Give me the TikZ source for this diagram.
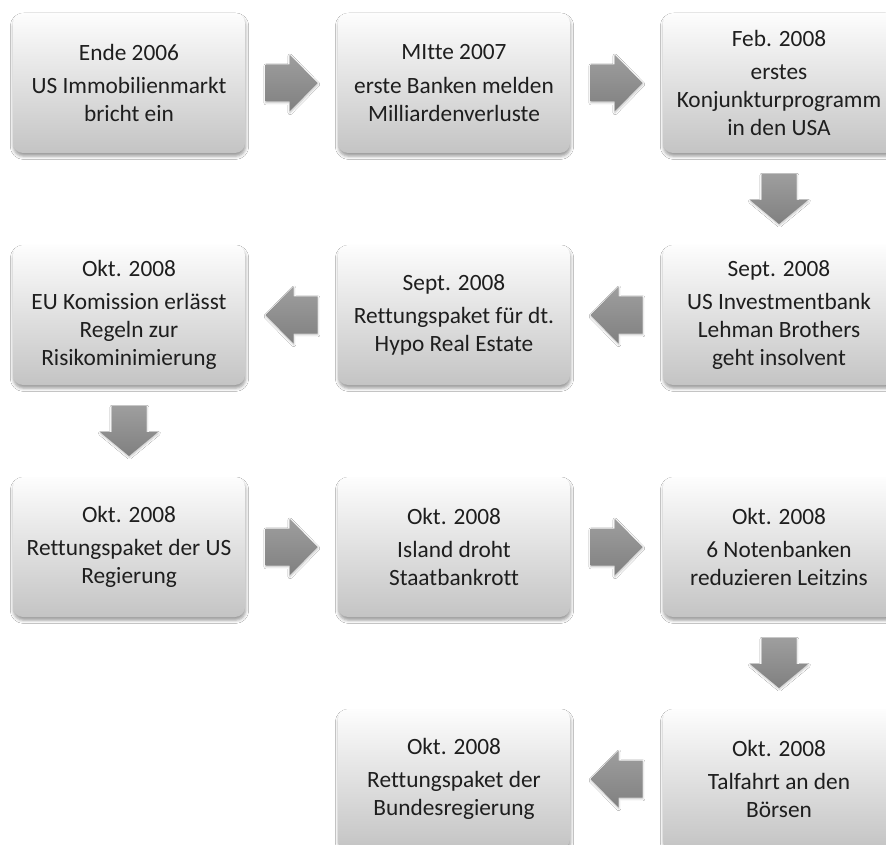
\documentclass[tikz,border=0pt]{standalone}
\usepackage{fontspec}
\setmainfont{Carlito}[Ligatures={NoCommon}]
\usetikzlibrary{calc,shadows.blur}

\definecolor{boxbottom}{HTML}{C4C4C4}
\definecolor{boxtop}{HTML}{FDFDFD}
\definecolor{ink}{HTML}{1E1E1E}
\definecolor{arrowlight}{HTML}{9E9E9E}
\definecolor{arrowdark}{HTML}{808080}

\tikzset{
  event/.style={
    rounded corners=7.5pt,
    minimum width=174pt, minimum height=105pt,
    inner sep=0pt, align=center, text=ink,
    top color=boxtop, bottom color=boxbottom,
    font={\fontsize{17.5}{21}\selectfont},
    blur shadow={shadow xshift=0.4pt, shadow yshift=-2.4pt,
                 shadow blur radius=2.4pt, shadow opacity=40}},
  arrowfill/.style={top color=arrowlight, bottom color=arrowdark,
    blur shadow={shadow xshift=0.3pt, shadow yshift=-1pt,
                 shadow blur radius=1.5pt, shadow opacity=25}}
}

% block arrows, drawn around a centre coordinate
\newcommand\arrowright[1]{\begin{scope}[shift={(#1)}]
  \shade[arrowfill] (-26,18.5) -- (-2,18.5) -- (-2,28.5) -- (26,0)
    -- (-2,-28.5) -- (-2,-18.5) -- (-26,-18.5) -- cycle;
\end{scope}}
\newcommand\arrowleft[1]{\begin{scope}[shift={(#1)}]
  \shade[arrowfill] (26,18.5) -- (2,18.5) -- (2,28.5) -- (-26,0)
    -- (2,-28.5) -- (2,-18.5) -- (26,-18.5) -- cycle;
\end{scope}}
\newcommand\arrowdown[1]{\begin{scope}[shift={(#1)}]
  \shade[arrowfill] (-17.5,25) -- (17.5,25) -- (17.5,-1) -- (29,-1)
    -- (0,-25) -- (-29,-1) -- (-17.5,-1) -- cycle;
\end{scope}}

\begin{document}
\begin{tikzpicture}[x=0.75pt,y=0.75pt]
\clip (0,0) rectangle (886,-845);
\fill[white] (0,0) rectangle (886,-845);

% row 1
\node[event] (e1) at (129,-83)  {Ende 2006\\[4pt]US Immobilienmarkt\\bricht ein};
\node[event] (e2) at (454,-83)  {MItte 2007\\[4pt]erste Banken melden\\Milliardenverluste};
\node[event] (e3) at (779,-83)  {Feb. 2008\\[4pt]erstes\\Konjunkturprogramm\\in den USA};
% row 2
\node[event] (e4) at (779,-315) {Sept. 2008\\[4pt]US Investmentbank\\Lehman Brothers\\geht insolvent};
\node[event] (e5) at (454,-315) {Sept. 2008\\[4pt]Rettungspaket für dt.\\Hypo Real Estate};
\node[event] (e6) at (129,-315) {Okt. 2008\\[4pt]EU Komission erlässt\\Regeln zur\\Risikominimierung};
% row 3
\node[event] (e7) at (129,-547) {Okt. 2008\\[4pt]Rettungspaket der US\\Regierung};
\node[event] (e8) at (454,-547) {Okt. 2008\\[4pt]Island droht\\Staatbankrott};
\node[event] (e9) at (779,-547) {Okt. 2008\\[4pt]6 Notenbanken\\reduzieren Leitzins};
% row 4
\node[event] (e10) at (779,-779) {Okt. 2008\\[4pt]Talfahrt an den\\Börsen};
\node[event] (e11) at (454,-779) {Okt. 2008\\[4pt]Rettungspaket der\\Bundesregierung};

% arrow centres between neighbouring events
\coordinate (a1)  at ($(e1.east)!0.5!(e2.west)$);
\coordinate (a2)  at ($(e2.east)!0.5!(e3.west)$);
\coordinate (a3)  at ($(e3.south)!0.5!(e4.north)$);
\coordinate (a4)  at ($(e4.west)!0.5!(e5.east)$);
\coordinate (a5)  at ($(e5.west)!0.5!(e6.east)$);
\coordinate (a6)  at ($(e6.south)!0.5!(e7.north)$);
\coordinate (a7)  at ($(e7.east)!0.5!(e8.west)$);
\coordinate (a8)  at ($(e8.east)!0.5!(e9.west)$);
\coordinate (a9)  at ($(e9.south)!0.5!(e10.north)$);
\coordinate (a10) at ($(e10.west)!0.5!(e11.east)$);

\arrowright{a1}
\arrowright{a2}
\arrowdown{a3}
\arrowleft{a4}
\arrowleft{a5}
\arrowdown{a6}
\arrowright{a7}
\arrowright{a8}
\arrowdown{a9}
\arrowleft{a10}
\end{tikzpicture}
\end{document}
